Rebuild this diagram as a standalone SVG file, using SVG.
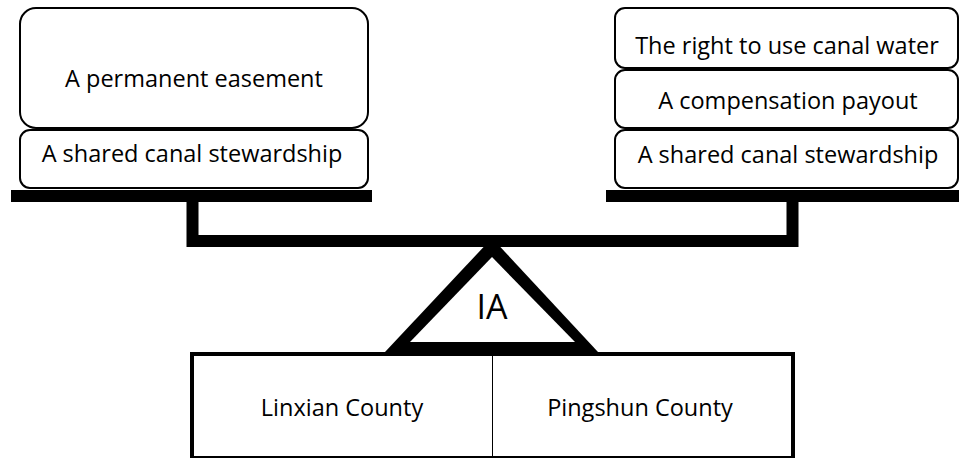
<svg xmlns="http://www.w3.org/2000/svg" width="959" height="458" viewBox="0 0 959 458">
<style>
.box{fill:#fff;stroke:#000;stroke-width:2}
.t{font-family:"Open Sans","Liberation Sans",sans-serif;font-size:23.5px;fill:#000;text-anchor:middle}
.bar{fill:none;stroke:#000;stroke-width:12}
</style>
<rect width="959" height="458" fill="#fff"/>
<g id="left-pan">
  <g id="permanent-easement"><rect class="box" x="20" y="8" width="348" height="120" rx="16"/><text class="t" x="194" y="87">A permanent easement</text></g>
  <g id="left-stewardship"><rect class="box" x="20" y="130" width="348" height="58" rx="10"/><text class="t" x="192" y="162">A shared canal stewardship</text></g>
</g>
<g id="right-pan">
  <g id="water-right"><rect class="box" x="615" y="8" width="343" height="60" rx="10"/><text class="t" x="787" y="54">The right to use canal water</text></g>
  <g id="compensation"><rect class="box" x="615" y="70" width="343" height="58" rx="10"/><text class="t" x="788" y="109">A compensation payout</text></g>
  <g id="right-stewardship"><rect class="box" x="615" y="130" width="343" height="58" rx="10"/><text class="t" x="788" y="163">A shared canal stewardship</text></g>
</g>
<g id="connectors">
  <rect x="11" y="190" width="361" height="12" fill="#000"/>
  <rect x="606" y="190" width="353" height="12" fill="#000"/>
  <path class="bar" d="M192.5 202 V241 H792.5 V202"/>
</g>
<g id="fulcrum">
  <polygon points="492,238 385,352 598,352" fill="#000"/>
  <polygon points="492,257 410,342 575,342" fill="#fff"/>
  <text class="t" x="492" y="319" style="font-size:34px">IA</text>
</g>
<g id="base">
  <rect x="192" y="354" width="601" height="104" fill="#fff" stroke="#000" stroke-width="4"/>
  <line x1="492.5" y1="356" x2="492.5" y2="458" stroke="#000" stroke-width="1"/>
  <g id="linxian"><text class="t" x="342" y="416">Linxian County</text></g>
  <g id="pingshun"><text class="t" x="640" y="416">Pingshun County</text></g>
</g>
</svg>
